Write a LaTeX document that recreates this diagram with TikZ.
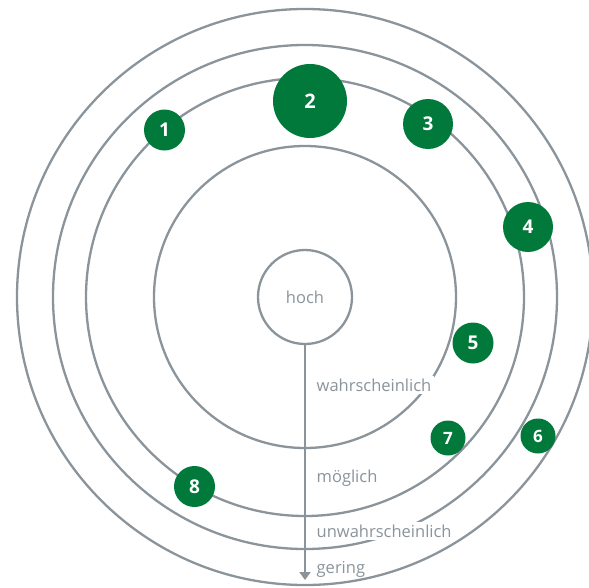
\documentclass[tikz,border=0pt]{standalone}
\usepackage{fontspec}
\setmainfont{Open Sans}
\usepackage{tikz}
\usetikzlibrary{arrows.meta}

\definecolor{ringgray}{RGB}{138,148,154}
\definecolor{riskgreen}{RGB}{0,121,58}

\begin{document}
\begin{tikzpicture}[
  x=1pt, y=-1pt,
  ring/.style={circle, draw=ringgray, line width=2.3pt, inner sep=0pt, text=ringgray, font=\fontsize{16.5}{19}\selectfont},
  lvl/.style={anchor=base west, fill=white, inner sep=2.5pt, text=ringgray, font=\fontsize{16.5}{19}\selectfont},
  risk/.style={circle, fill=riskgreen, text=white, inner sep=0pt, font=\bfseries\fontsize{19}{21}\selectfont},
  arr/.style={-{Triangle[length=8pt,width=11pt]}, draw=ringgray, line width=2.3pt}
]
\clip (0,0) rectangle (589,587);

% rings
\node[ring, minimum size=576pt] (outer) at (305,297) {};
\node[ring, minimum size=504pt] (unlikely) at (305,297) {};
\node[ring, minimum size=438pt] (possible) at (305,297) {};
\node[ring, minimum size=302pt] (likely) at (305,297) {};
\node[ring, minimum size=94pt] (core) at (305,297) {hoch};

% levels
\node[lvl] (l1) at (314,391) {wahrscheinlich};
\node[lvl] (l2) at (314,482) {möglich};
\node[lvl] (l3) at (314,537) {unwahrscheinlich};
\node[lvl, fill=none] (l4) at (314,573) {gering};

\coordinate (tip) at (305,580);
\draw[arr] (core.south) -- (tip);

% risks
\node[risk, minimum size=41pt] (n1) at (164.5,130) {1};
\node[risk, minimum size=74pt, font=\bfseries\fontsize{20}{22}\selectfont] (n2) at (310,101) {2};
\node[risk, minimum size=50pt] (n3) at (428,124) {3};
\node[risk, minimum size=50pt] (n4) at (528,227) {4};
\node[risk, minimum size=41pt] (n5) at (473,343) {5};
\node[risk, minimum size=35pt, font=\bfseries\fontsize{17}{19}\selectfont] (n6) at (538,436) {6};
\node[risk, minimum size=35pt, font=\bfseries\fontsize{17}{19}\selectfont] (n7) at (448,438) {7};
\node[risk, minimum size=41pt] (n8) at (194.5,486.5) {8};
\end{tikzpicture}
\end{document}
